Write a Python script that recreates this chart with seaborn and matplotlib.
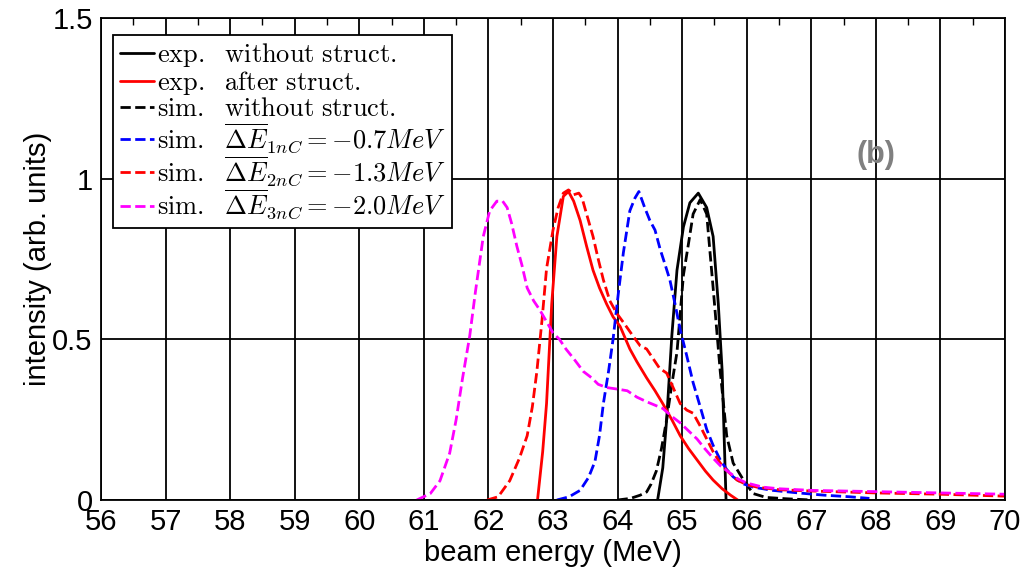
import numpy as np
import pandas as pd
import matplotlib
matplotlib.use("Agg")
import matplotlib.pyplot as plt
import seaborn as sns
from matplotlib.ticker import MultipleLocator

# ---- data ----
exp_wo_x = [64.62, 64.70, 64.76, 64.84, 64.92, 65.02, 65.12, 65.25, 65.38, 65.48, 65.56, 65.62, 65.65, 65.68]
exp_wo_y = [0.0, 0.10, 0.25, 0.51, 0.715, 0.85, 0.925, 0.955, 0.91, 0.82, 0.61, 0.40, 0.20, 0.0]

exp_after_x = [62.76, 62.84, 62.90, 62.98, 63.06, 63.16, 63.24, 63.32, 63.42, 63.52, 63.62, 63.72, 63.83,
               63.93, 64.04, 64.19, 64.30, 64.45, 64.58, 64.70, 64.84, 64.97, 65.10, 65.23, 65.36, 65.48,
               65.62, 65.75, 65.86]
exp_after_y = [0.0, 0.15, 0.30, 0.61, 0.82, 0.945, 0.96, 0.93, 0.87, 0.79, 0.715, 0.66, 0.61,
               0.57, 0.54, 0.47, 0.43, 0.38, 0.34, 0.30, 0.25, 0.20, 0.16, 0.125, 0.09, 0.062,
               0.035, 0.015, 0.0]

sim_wo_x = [64.0, 64.2, 64.35, 64.45, 64.52, 64.6, 64.68, 64.76, 64.84, 64.92, 65.02, 65.10, 65.17,
            65.28, 65.38, 65.48, 65.59, 65.69, 65.79, 65.95, 66.1, 66.3, 66.6, 67.0]
sim_wo_y = [0.0, 0.005, 0.015, 0.025, 0.05, 0.09, 0.16, 0.25, 0.36, 0.46, 0.70, 0.80, 0.89,
            0.935, 0.89, 0.66, 0.40, 0.20, 0.115, 0.062, 0.02, 0.008, 0.004, 0.0]

sim1_x = [63.06, 63.25, 63.42, 63.55, 63.65, 63.72, 63.78, 63.86, 63.93, 64.01, 64.09, 64.19, 64.27,
          64.33, 64.42, 64.5, 64.58, 64.66, 64.74, 64.81, 64.89, 64.97, 65.07, 65.17, 65.28, 65.38,
          65.48, 65.59, 65.69, 65.79, 65.95, 66.1, 66.4, 66.8, 67.2, 67.6, 67.9]
sim1_y = [0.0, 0.01, 0.03, 0.07, 0.12, 0.20, 0.30, 0.40, 0.50, 0.64, 0.77, 0.90, 0.94,
          0.96, 0.91, 0.87, 0.84, 0.78, 0.73, 0.685, 0.61, 0.53, 0.45, 0.365, 0.29, 0.22,
          0.17, 0.125, 0.095, 0.072, 0.05, 0.04, 0.03, 0.022, 0.015, 0.01, 0.005]

sim2_x = [61.98, 62.15, 62.33, 62.48, 62.6, 62.68, 62.75, 62.83, 62.9, 63.0, 63.08, 63.16, 63.24,
          63.32, 63.4, 63.45, 63.52, 63.62, 63.7, 63.78, 63.88, 63.99, 64.1, 64.24, 64.35, 64.45,
          64.55, 64.65, 64.76, 64.86, 64.97, 65.07, 65.17, 65.28, 65.38, 65.48, 65.59, 65.7, 65.85,
          66.0, 66.16, 66.5, 67.0, 67.5, 68.0, 68.5, 69.0, 69.5, 70.0]
sim2_y = [0.0, 0.01, 0.06, 0.13, 0.2, 0.29, 0.40, 0.56, 0.72, 0.84, 0.91, 0.955, 0.965,
          0.95, 0.955, 0.94, 0.89, 0.82, 0.75, 0.685, 0.62, 0.58, 0.55, 0.51, 0.48, 0.47,
          0.44, 0.41, 0.395, 0.35, 0.30, 0.28, 0.27, 0.23, 0.19, 0.15, 0.115, 0.09, 0.062,
          0.048, 0.04, 0.032, 0.028, 0.025, 0.022, 0.02, 0.018, 0.015, 0.012]

sim3_x = [60.89, 61.1, 61.25, 61.4, 61.5, 61.6, 61.71, 61.8, 61.92, 62.02, 62.13, 62.22, 62.29,
          62.36, 62.44, 62.52, 62.6, 62.7, 62.8, 62.9, 63.0, 63.1, 63.2, 63.32, 63.47, 63.6, 63.7,
          63.83, 64.0, 64.15, 64.3, 64.46, 64.58, 64.7, 64.84, 64.97, 65.1, 65.23, 65.35, 65.48,
          65.6, 65.74, 65.87, 66.0, 66.25, 66.5, 67.0, 67.5, 68.0, 68.5, 69.0, 69.5, 70.0]
sim3_y = [0.0, 0.02, 0.06, 0.146, 0.25, 0.38, 0.51, 0.65, 0.82, 0.90, 0.93, 0.93, 0.91,
          0.86, 0.79, 0.73, 0.66, 0.62, 0.59, 0.555, 0.52, 0.50, 0.47, 0.44, 0.40, 0.38, 0.36,
          0.35, 0.345, 0.34, 0.32, 0.305, 0.295, 0.285, 0.26, 0.24, 0.215, 0.19, 0.16, 0.13,
          0.105, 0.084, 0.065, 0.053, 0.04, 0.035, 0.03, 0.028, 0.026, 0.024, 0.022, 0.02, 0.018]

labels = [r"$\mathrm{exp.\ \ without\ struct.}$",
          r"$\mathrm{exp.\ \ after\ struct.}$",
          r"$\mathrm{sim.\ \ without\ struct.}$",
          r"$\mathrm{sim.}\ \ \overline{\Delta E}_{1nC}=-0.7MeV$",
          r"$\mathrm{sim.}\ \ \overline{\Delta E}_{2nC}=-1.3MeV$",
          r"$\mathrm{sim.}\ \ \overline{\Delta E}_{3nC}=-2.0MeV$"]

xticks = list(range(56, 71))
yticks = [0, 0.5, 1, 1.5]
ytick_labels = ["0", "0.5", "1", "1.5"]

# ---- figure ----
sns.set_style("white")
plt.rcParams["font.family"] = ["Liberation Sans", "DejaVu Sans"]
plt.rcParams["mathtext.fontset"] = "cm"
plt.rcParams["text.color"] = "black"
plt.rcParams["axes.labelcolor"] = "black"

fig = plt.figure(figsize=(10.35, 5.68), dpi=100)
ax = fig.add_axes([101 / 1035, 68 / 568, 904 / 1035, 482 / 568])

series = [
    (exp_wo_x, exp_wo_y, "black", "-"),
    (exp_after_x, exp_after_y, "red", "-"),
    (sim_wo_x, sim_wo_y, "black", "--"),
    (sim1_x, sim1_y, "blue", "--"),
    (sim2_x, sim2_y, "red", "--"),
    (sim3_x, sim3_y, "magenta", "--"),
]
handles = []
for (xs, ys, c, ls), lab in zip(series, labels):
    df = pd.DataFrame({"x": xs, "y": ys})
    sns.lineplot(data=df, x="x", y="y", color=c, linestyle=ls, linewidth=2.0,
                 ax=ax, estimator=None, sort=False)
    handles.append(ax.lines[-1])

ax.set_xlim(56, 70)
ax.set_ylim(0, 1.5)
ax.set_xticks(xticks)
ax.set_xticklabels([str(t) for t in xticks])
ax.set_yticks(yticks)
ax.set_yticklabels(ytick_labels)
ax.xaxis.set_minor_locator(MultipleLocator(0.5))
ax.grid(True, which="major", color="black", linewidth=1.3, linestyle="-")
ax.set_axisbelow(True)
ax.tick_params(which="both", direction="in", top=True, right=True, colors="black",
               labelsize=21, pad=6, labelcolor="black")
ax.tick_params(which="major", length=0)
ax.tick_params(which="minor", length=5, width=1)
for s in ax.spines.values():
    s.set_color("black")
    s.set_linewidth(1.3)

ax.set_xlabel("beam energy (MeV)", fontsize=21, labelpad=2, color="black")
ax.set_ylabel("intensity (arb. units)", fontsize=21, labelpad=0, color="black")

leg = ax.legend(handles, labels, loc="upper left", bbox_to_anchor=(0.0133, 0.965),
                borderaxespad=0, fontsize=19, handlelength=1.3, handletextpad=0.1,
                labelspacing=0.0, borderpad=0.25, fancybox=False, framealpha=1,
                edgecolor="black")
leg.get_frame().set_linewidth(1.3)

ax.text(68.0, 1.075, "(b)", fontsize=22, fontweight="bold", color="#808080",
        ha="center", va="center")

fig.savefig("out.png", dpi=100)
